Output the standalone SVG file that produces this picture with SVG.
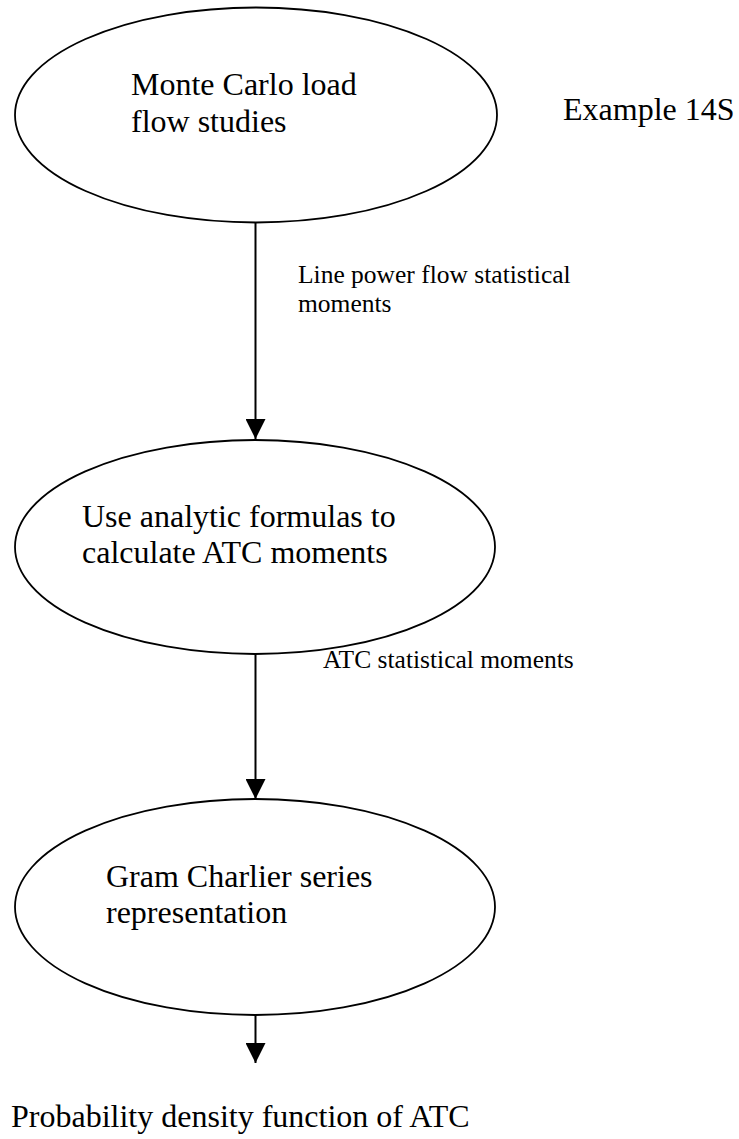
<svg xmlns="http://www.w3.org/2000/svg" width="739" height="1139" viewBox="0 0 739 1139">
<style>
.node{fill:#fff;stroke:#000;stroke-width:1.8}
.t{font-family:"Liberation Serif","Times New Roman",serif;font-size:32px;fill:#000}
.l{font-family:"Liberation Serif","Times New Roman",serif;font-size:25.5px;fill:#000}
.c{stroke:#000;stroke-width:2;fill:none}
</style>
<defs>
<marker id="ah" markerUnits="userSpaceOnUse" markerWidth="20" markerHeight="20" refX="20" refY="10" orient="auto">
<path d="M0,0 L20,10 L0,20 Z" fill="#000"/>
</marker>
</defs>
<g id="n1">
<ellipse class="node" cx="256" cy="115" rx="241" ry="107.5"/>
<text class="t" x="131" y="95">Monte Carlo load</text>
<text class="t" x="131" y="132">flow studies</text>
</g>
<g id="example">
<text class="t" x="563" y="120">Example 14S</text>
</g>
<g id="n2">
<ellipse class="node" cx="255" cy="547" rx="240" ry="107"/>
<text class="t" x="82" y="527">Use analytic formulas to</text>
<text class="t" x="82" y="563">calculate ATC moments</text>
</g>
<g id="n3">
<ellipse class="node" cx="255" cy="907" rx="240" ry="108"/>
<text class="t" x="106" y="887">Gram Charlier series</text>
<text class="t" x="106" y="923">representation</text>
</g>
<g id="out">
<text class="t" x="11" y="1127">Probability density function of ATC</text>
</g>
<g id="connectors">
<line class="c" x1="255.5" y1="222" x2="255.5" y2="439" marker-end="url(#ah)"/>
<text class="l" x="298" y="283">Line power flow statistical</text>
<text class="l" x="298" y="312">moments</text>
<line class="c" x1="255.5" y1="654" x2="255.5" y2="799" marker-end="url(#ah)"/>
<text class="l" x="323" y="668">ATC statistical moments</text>
<line class="c" x1="255.5" y1="1015" x2="255.5" y2="1063" marker-end="url(#ah)"/>
</g>
</svg>
